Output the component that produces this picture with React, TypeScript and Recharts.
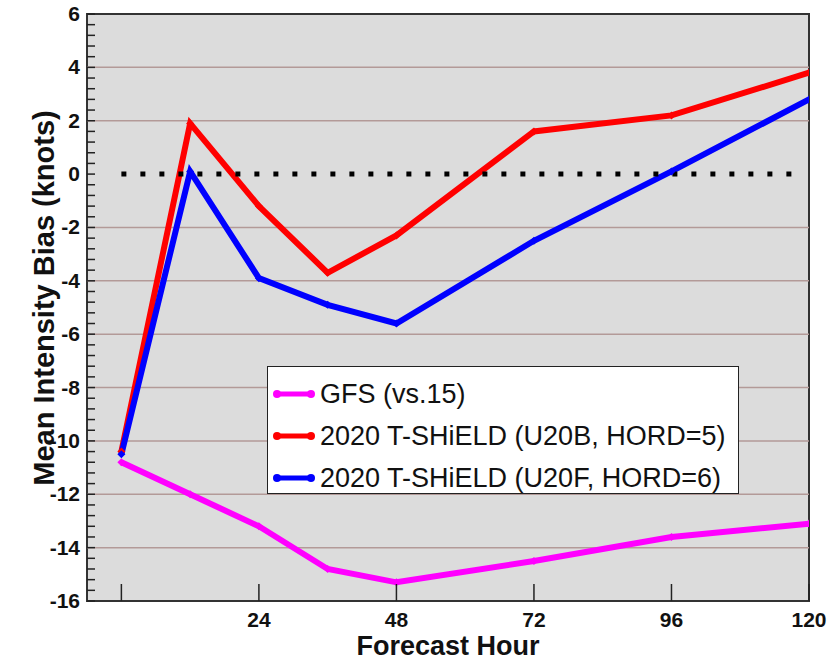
import { LineChart, Line, XAxis, YAxis, ReferenceLine, ReferenceArea } from "recharts";

const hours = [0, 12, 24, 36, 48, 72, 96, 120];
const gfs = [-10.8, -12.0, -13.2, -14.8, -15.3, -14.5, -13.6, -13.1];
const u20b = [-10.4, 1.9, -1.2, -3.7, -2.3, 1.6, 2.2, 3.8];
const u20f = [-10.5, 0.1, -3.9, -4.9, -5.6, -2.5, 0.1, 2.8];

const xTicks = [0, 24, 48, 72, 96, 120];
const yMajor = [-16, -14, -12, -10, -8, -6, -4, -2, 0, 2, 4, 6];
const gridY = [-14, -12, -10, -8, -6, -4, -2, 2, 4];
// minor ticks every 0.4 knots
const yTicks = Array.from({ length: 56 }, (_, i) => Math.round((-16 + i * 0.4) * 10) / 10);

const series = [
  { key: "gfs", name: "GFS (vs.15)", color: "#ff00ff" },
  { key: "u20b", name: "2020 T-SHiELD (U20B, HORD=5)", color: "#ff0000" },
  { key: "u20f", name: "2020 T-SHiELD (U20F, HORD=6)", color: "#0000ff" },
];

const data = hours.map((h, i) => ({ hour: h, gfs: gfs[i], u20b: u20b[i], u20f: u20f[i] }));

const FONT = "'Liberation Sans', Arial, Helvetica, sans-serif";

const XTick = (props: any) => {
  const { x, y, payload } = props;
  return (
    <g>
      <line x1={x} y1={y} x2={x} y2={y - 17} stroke="#222" strokeWidth={1.5} />
      {payload.value !== 0 && (
        <text x={x} y={y + 26} textAnchor="middle" fontFamily={FONT} fontWeight="bold" fontSize={21} fill="#111">
          {payload.value}
        </text>
      )}
    </g>
  );
};

const YTickLeft = (props: any) => {
  const { x, y, payload } = props;
  const major = yMajor.includes(payload.value);
  return (
    <g>
      <line x1={x} y1={y} x2={x + 8} y2={y} stroke="#222" strokeWidth={1.5} />
      {major && (
        <text x={x - 7} y={y} dy={7} textAnchor="end" fontFamily={FONT} fontWeight="bold" fontSize={21} fill="#111">
          {payload.value}
        </text>
      )}
    </g>
  );
};

const YTickRight = (props: any) => {
  const { x, y } = props;
  return <line x1={x} y1={y} x2={x - 8} y2={y} stroke="#222" strokeWidth={1.5} />;
};

const Dot = (props: any) => {
  const { cx, cy, stroke } = props;
  if (cx == null || cy == null) return null;
  return <path d={`M${cx - 4},${cy} L${cx},${cy - 4} L${cx + 4},${cy} L${cx},${cy + 4} Z`} fill={stroke} />;
};

const LegendBox = () => (
  <div
    style={{
      position: "absolute",
      left: 267,
      top: 366,
      width: 472,
      height: 128,
      border: "1.5px solid #222",
      background: "#fff",
      boxSizing: "border-box",
      paddingTop: 6,
      fontFamily: FONT,
    }}
  >
    {series.map((s) => (
      <div key={s.key} style={{ display: "flex", alignItems: "center", height: 42 }}>
        <svg width={52} height={14} style={{ flex: "none" }}>
          <line x1={9} y1={7} x2={43} y2={7} stroke={s.color} strokeWidth={5} />
          <circle cx={9} cy={7} r={4} fill={s.color} />
          <circle cx={43} cy={7} r={4} fill={s.color} />
        </svg>
        <span style={{ fontSize: 27, color: "#111", whiteSpace: "nowrap" }}>{s.name}</span>
      </div>
    ))}
  </div>
);

export default function App() {
  return (
    <div style={{ position: "absolute", left: 0, top: 0, width: 837, height: 661, background: "#fff" }}>
      <LineChart width={837} height={661} data={data} margin={{ top: 14, right: 28, left: 7, bottom: 0 }}>
        <XAxis
          dataKey="hour"
          type="number"
          domain={[-6, 120]}
          ticks={xTicks}
          allowDataOverflow
          height={60}
          tickSize={0}
          tickMargin={0}
          tickLine={false}
          axisLine={false}
          tick={<XTick />}
          interval={0}
          label={{
            content: () => (
              <text x={448} y={655} textAnchor="middle" fontFamily={FONT} fontWeight="bold" fontSize={27} fill="#111">
                Forecast Hour
              </text>
            ),
          }}
        />
        <YAxis
          yAxisId="l"
          type="number"
          domain={[-16, 6]}
          ticks={yTicks}
          interval={0}
          allowDataOverflow
          width={80}
          tickSize={0}
          tickMargin={0}
          tickLine={false}
          axisLine={false}
          tick={<YTickLeft />}
          label={{
            content: () => (
              <text
                x={44}
                y={298}
                transform="rotate(-90 44 298)"
                textAnchor="middle"
                dominantBaseline="central"
                fontFamily={FONT}
                fontWeight="bold"
                fontSize={29}
                fill="#111"
              >
                Mean Intensity Bias (knots)
              </text>
            ),
          }}
        />
        <YAxis
          yAxisId="r"
          orientation="right"
          type="number"
          domain={[-16, 6]}
          ticks={yTicks}
          interval={0}
          allowDataOverflow
          width={0}
          tickSize={0}
          tickMargin={0}
          tickLine={false}
          axisLine={false}
          tick={<YTickRight />}
        />
        <ReferenceArea yAxisId="l" x1={-6} x2={120} y1={-16} y2={6} fill="#dcdcdc" fillOpacity={1} stroke="none" />
        {gridY.map((v) => (
          <ReferenceLine key={v} yAxisId="l" y={v} stroke="#b39a98" strokeWidth={1.5} />
        ))}
        {series.map((s) => (
          <Line
            key={s.key}
            yAxisId="l"
            dataKey={s.key}
            name={s.name}
            type="linear"
            stroke={s.color}
            strokeWidth={6}
            dot={<Dot />}
            activeDot={false}
            isAnimationActive={false}
          />
        ))}
        <ReferenceLine
          yAxisId="l"
          segment={[{ x: 0, y: 0 }, { x: 118, y: 0 }]}
          stroke="#000"
          strokeWidth={5}
          strokeDasharray="5 14"
        />
        <ReferenceArea yAxisId="l" x1={-6} x2={120} y1={-16} y2={6} fill="none" stroke="#333" strokeWidth={2} />
      </LineChart>
      <LegendBox />
    </div>
  );
}
